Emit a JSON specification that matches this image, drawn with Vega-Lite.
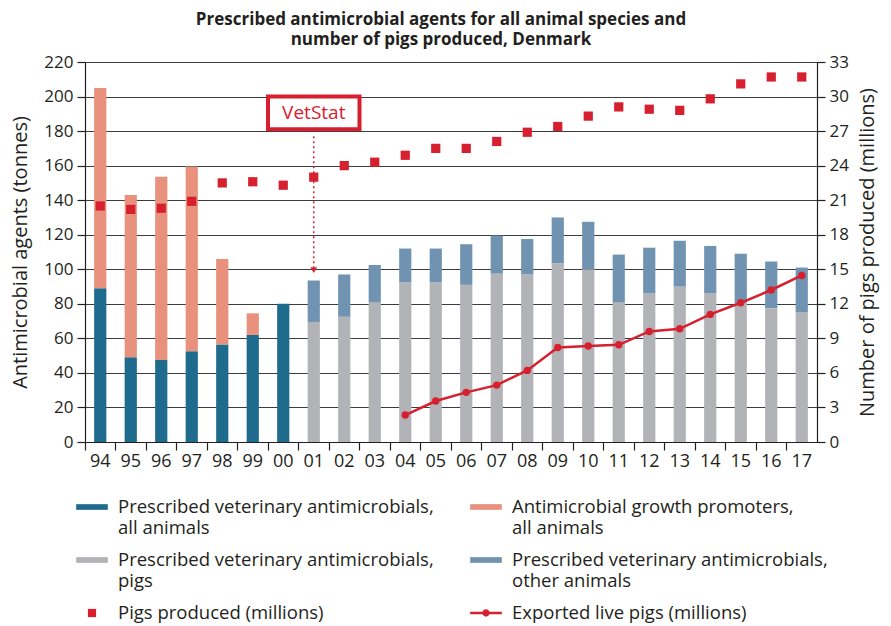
{
  "$schema": "https://vega.github.io/schema/vega-lite/v6.json",
  "width": 732,
  "height": 380,
  "autosize": {"type": "none"},
  "padding": {"left": 85, "top": 62, "right": 74, "bottom": 184},
  "background": "white",
  "title": {
    "text": ["Prescribed antimicrobial agents for all animal species and", "number of pigs produced, Denmark"],
    "fontSize": 17,
    "fontWeight": "bold",
    "font": "Open Sans",
    "color": "#231f20",
    "anchor": "middle",
    "dx": -10,
    "offset": 4,
    "lineHeight": 20
  },
  "config": {
    "view": {"stroke": null},
    "font": "Open Sans",
    "axis": {
      "labelFont": "Open Sans",
      "labelColor": "#231f20",
      "titleFont": "Open Sans",
      "titleColor": "#231f20",
      "titleFontWeight": "normal",
      "domainColor": "#231f20",
      "tickColor": "#231f20",
      "domainWidth": 1.2,
      "tickWidth": 1.2
    },
    "legend": {
      "orient": "none",
      "legendX": -9,
      "legendY": 429,
      "direction": "horizontal",
      "columns": 2,
      "columnPadding": 36,
      "rowPadding": 7,
      "labelFont": "Open Sans",
      "labelFontSize": 18.5,
      "labelColor": "#231f20",
      "labelLimit": 0,
      "labelOffset": 10,
      "symbolSize": 1000,
      "title": null
    }
  },
  "datasets": {
    "bars": [
      {"year": "94", "series": "Prescribed veterinary antimicrobials, all animals", "tonnes": 89, "ord": 1},
      {"year": "94", "series": "Antimicrobial growth promoters, all animals", "tonnes": 116, "ord": 2},
      {"year": "95", "series": "Prescribed veterinary antimicrobials, all animals", "tonnes": 49, "ord": 1},
      {"year": "95", "series": "Antimicrobial growth promoters, all animals", "tonnes": 94, "ord": 2},
      {"year": "96", "series": "Prescribed veterinary antimicrobials, all animals", "tonnes": 47.5, "ord": 1},
      {"year": "96", "series": "Antimicrobial growth promoters, all animals", "tonnes": 106, "ord": 2},
      {"year": "97", "series": "Prescribed veterinary antimicrobials, all animals", "tonnes": 52.5, "ord": 1},
      {"year": "97", "series": "Antimicrobial growth promoters, all animals", "tonnes": 107, "ord": 2},
      {"year": "98", "series": "Prescribed veterinary antimicrobials, all animals", "tonnes": 56.5, "ord": 1},
      {"year": "98", "series": "Antimicrobial growth promoters, all animals", "tonnes": 49.5, "ord": 2},
      {"year": "99", "series": "Prescribed veterinary antimicrobials, all animals", "tonnes": 62, "ord": 1},
      {"year": "99", "series": "Antimicrobial growth promoters, all animals", "tonnes": 12.5, "ord": 2},
      {"year": "00", "series": "Prescribed veterinary antimicrobials, all animals", "tonnes": 80, "ord": 1},
      {"year": "01", "series": "Prescribed veterinary antimicrobials, pigs", "tonnes": 69.5, "ord": 1},
      {"year": "01", "series": "Prescribed veterinary antimicrobials, other animals", "tonnes": 24, "ord": 2},
      {"year": "02", "series": "Prescribed veterinary antimicrobials, pigs", "tonnes": 72.5, "ord": 1},
      {"year": "02", "series": "Prescribed veterinary antimicrobials, other animals", "tonnes": 24.5, "ord": 2},
      {"year": "03", "series": "Prescribed veterinary antimicrobials, pigs", "tonnes": 81, "ord": 1},
      {"year": "03", "series": "Prescribed veterinary antimicrobials, other animals", "tonnes": 21.5, "ord": 2},
      {"year": "04", "series": "Prescribed veterinary antimicrobials, pigs", "tonnes": 92.5, "ord": 1},
      {"year": "04", "series": "Prescribed veterinary antimicrobials, other animals", "tonnes": 19.5, "ord": 2},
      {"year": "05", "series": "Prescribed veterinary antimicrobials, pigs", "tonnes": 92.5, "ord": 1},
      {"year": "05", "series": "Prescribed veterinary antimicrobials, other animals", "tonnes": 19.5, "ord": 2},
      {"year": "06", "series": "Prescribed veterinary antimicrobials, pigs", "tonnes": 91, "ord": 1},
      {"year": "06", "series": "Prescribed veterinary antimicrobials, other animals", "tonnes": 23.5, "ord": 2},
      {"year": "07", "series": "Prescribed veterinary antimicrobials, pigs", "tonnes": 97.5, "ord": 1},
      {"year": "07", "series": "Prescribed veterinary antimicrobials, other animals", "tonnes": 22, "ord": 2},
      {"year": "08", "series": "Prescribed veterinary antimicrobials, pigs", "tonnes": 97, "ord": 1},
      {"year": "08", "series": "Prescribed veterinary antimicrobials, other animals", "tonnes": 20.5, "ord": 2},
      {"year": "09", "series": "Prescribed veterinary antimicrobials, pigs", "tonnes": 103.5, "ord": 1},
      {"year": "09", "series": "Prescribed veterinary antimicrobials, other animals", "tonnes": 26.5, "ord": 2},
      {"year": "10", "series": "Prescribed veterinary antimicrobials, pigs", "tonnes": 100, "ord": 1},
      {"year": "10", "series": "Prescribed veterinary antimicrobials, other animals", "tonnes": 27.5, "ord": 2},
      {"year": "11", "series": "Prescribed veterinary antimicrobials, pigs", "tonnes": 81, "ord": 1},
      {"year": "11", "series": "Prescribed veterinary antimicrobials, other animals", "tonnes": 27.5, "ord": 2},
      {"year": "12", "series": "Prescribed veterinary antimicrobials, pigs", "tonnes": 86, "ord": 1},
      {"year": "12", "series": "Prescribed veterinary antimicrobials, other animals", "tonnes": 26.5, "ord": 2},
      {"year": "13", "series": "Prescribed veterinary antimicrobials, pigs", "tonnes": 90, "ord": 1},
      {"year": "13", "series": "Prescribed veterinary antimicrobials, other animals", "tonnes": 26.5, "ord": 2},
      {"year": "14", "series": "Prescribed veterinary antimicrobials, pigs", "tonnes": 86, "ord": 1},
      {"year": "14", "series": "Prescribed veterinary antimicrobials, other animals", "tonnes": 27.5, "ord": 2},
      {"year": "15", "series": "Prescribed veterinary antimicrobials, pigs", "tonnes": 80.5, "ord": 1},
      {"year": "15", "series": "Prescribed veterinary antimicrobials, other animals", "tonnes": 28.5, "ord": 2},
      {"year": "16", "series": "Prescribed veterinary antimicrobials, pigs", "tonnes": 77.5, "ord": 1},
      {"year": "16", "series": "Prescribed veterinary antimicrobials, other animals", "tonnes": 27, "ord": 2},
      {"year": "17", "series": "Prescribed veterinary antimicrobials, pigs", "tonnes": 75, "ord": 1},
      {"year": "17", "series": "Prescribed veterinary antimicrobials, other animals", "tonnes": 26, "ord": 2}
    ],
    "produced": [
      {"year": "94", "series": "Pigs produced (millions)", "millions": 20.5},
      {"year": "95", "series": "Pigs produced (millions)", "millions": 20.2},
      {"year": "96", "series": "Pigs produced (millions)", "millions": 20.3},
      {"year": "97", "series": "Pigs produced (millions)", "millions": 20.9},
      {"year": "98", "series": "Pigs produced (millions)", "millions": 22.5},
      {"year": "99", "series": "Pigs produced (millions)", "millions": 22.6},
      {"year": "00", "series": "Pigs produced (millions)", "millions": 22.3},
      {"year": "01", "series": "Pigs produced (millions)", "millions": 23.0},
      {"year": "02", "series": "Pigs produced (millions)", "millions": 24.0},
      {"year": "03", "series": "Pigs produced (millions)", "millions": 24.3},
      {"year": "04", "series": "Pigs produced (millions)", "millions": 24.9},
      {"year": "05", "series": "Pigs produced (millions)", "millions": 25.5},
      {"year": "06", "series": "Pigs produced (millions)", "millions": 25.5},
      {"year": "07", "series": "Pigs produced (millions)", "millions": 26.1},
      {"year": "08", "series": "Pigs produced (millions)", "millions": 26.9},
      {"year": "09", "series": "Pigs produced (millions)", "millions": 27.4},
      {"year": "10", "series": "Pigs produced (millions)", "millions": 28.3},
      {"year": "11", "series": "Pigs produced (millions)", "millions": 29.1},
      {"year": "12", "series": "Pigs produced (millions)", "millions": 28.9},
      {"year": "13", "series": "Pigs produced (millions)", "millions": 28.8},
      {"year": "14", "series": "Pigs produced (millions)", "millions": 29.8},
      {"year": "15", "series": "Pigs produced (millions)", "millions": 31.1},
      {"year": "16", "series": "Pigs produced (millions)", "millions": 31.7},
      {"year": "17", "series": "Pigs produced (millions)", "millions": 31.7}
    ],
    "exported": [
      {"year": "04", "series": "Exported live pigs (millions)", "millions": 2.34},
      {"year": "05", "series": "Exported live pigs (millions)", "millions": 3.56},
      {"year": "06", "series": "Exported live pigs (millions)", "millions": 4.31},
      {"year": "07", "series": "Exported live pigs (millions)", "millions": 4.94},
      {"year": "08", "series": "Exported live pigs (millions)", "millions": 6.22},
      {"year": "09", "series": "Exported live pigs (millions)", "millions": 8.21},
      {"year": "10", "series": "Exported live pigs (millions)", "millions": 8.33},
      {"year": "11", "series": "Exported live pigs (millions)", "millions": 8.44},
      {"year": "12", "series": "Exported live pigs (millions)", "millions": 9.6},
      {"year": "13", "series": "Exported live pigs (millions)", "millions": 9.83},
      {"year": "14", "series": "Exported live pigs (millions)", "millions": 11.08},
      {"year": "15", "series": "Exported live pigs (millions)", "millions": 12.09},
      {"year": "16", "series": "Exported live pigs (millions)", "millions": 13.2},
      {"year": "17", "series": "Exported live pigs (millions)", "millions": 14.46}
    ],
    "box": [
      {"from": "00", "to": "02", "year": "01", "low": 181, "high": 200, "mid": 190.5, "label": "VetStat", "arrowStart": 177, "arrowEnd": 101, "tip": 99.5}
    ]
  },
  "layer": [
    {
      "layer": [
        {
          "data": {"name": "bars"},
          "mark": {"type": "bar", "width": {"band": 0.4}},
          "encoding": {
            "x": {
              "field": "year", "type": "ordinal", "title": null,
              "scale": {"domain": ["94","95","96","97","98","99","00","01","02","03","04","05","06","07","08","09","10","11","12","13","14","15","16","17"], "paddingInner": 0, "paddingOuter": 0},
              "axis": {"labelAngle": 0, "labelFontSize": 18, "tickSize": 8, "bandPosition": 0, "labelPadding": 2, "grid": false}
            },
            "y": {
              "field": "tonnes", "type": "quantitative", "stack": "zero",
              "title": "Antimicrobial agents (tonnes)",
              "scale": {"domain": [0, 220], "nice": false},
              "axis": {"values": [0,20,40,60,80,100,120,140,160,180,200,220], "grid": true, "gridColor": "#3d3d3d", "gridWidth": 1, "tickSize": 8, "labelFontSize": 17, "labelPadding": 4, "titleFontSize": 20, "titlePadding": 13}
            },
            "color": {
              "field": "series", "type": "nominal",
              "scale": {
                "domain": ["Prescribed veterinary antimicrobials, all animals", "Antimicrobial growth promoters, all animals", "Prescribed veterinary antimicrobials, pigs", "Prescribed veterinary antimicrobials, other animals", "Pigs produced (millions)", "Exported live pigs (millions)"],
                "range": ["#1f6b8e", "#e8917c", "#b2b3b7", "#7193b2", "#d7202f", "#d7202f"]
              },
              "legend": {
                "labelExpr": "split(replace(datum.label, ', ', ',|'), '|')",
                "encode": {
                  "symbols": {
                    "update": {
                      "shape": {"signal": "datum.value == 'Pigs produced (millions)' ? 'M-0.26,-0.26H0.26V0.26H-0.26Z' : (datum.value == 'Exported live pigs (millions)' ? 'M-1,-0.08H1V0.08H-1Z M0.23,0A0.23,0.23 0 1 1 -0.23,0A0.23,0.23 0 1 1 0.23,0Z' : 'M-1,-0.18H1V0.18H-1Z')"},
                      "fill": {"scale": "color", "field": "value"},
                      "stroke": {"value": "transparent"},
                      "strokeWidth": {"value": 0},
                      "opacity": {"value": 1},
                      "size": {"value": 1000}
                    }
                  }
                }
              }
            },
            "order": {"field": "ord", "type": "quantitative"}
          }
        },
        {
          "data": {"name": "box"},
          "mark": {"type": "rect", "fill": "white", "stroke": "#d7202f", "strokeWidth": 4},
          "encoding": {
            "x": {"field": "from", "type": "ordinal", "bandPosition": 0, "title": null},
            "x2": {"field": "to", "bandPosition": 1},
            "y": {"field": "low", "type": "quantitative", "title": "Antimicrobial agents (tonnes)",
              "axis": {"values": [0,20,40,60,80,100,120,140,160,180,200,220], "grid": true, "gridColor": "#3d3d3d", "gridWidth": 1, "tickSize": 8, "labelFontSize": 17, "labelPadding": 4, "titleFontSize": 20, "titlePadding": 13}},
            "y2": {"field": "high"}
          }
        },
        {
          "data": {"name": "box"},
          "mark": {"type": "text", "color": "#d7202f", "fontSize": 19, "font": "Open Sans", "baseline": "middle", "align": "center"},
          "encoding": {
            "x": {"field": "year", "type": "ordinal", "title": null},
            "y": {"field": "mid", "type": "quantitative", "title": "Antimicrobial agents (tonnes)",
              "axis": {"values": [0,20,40,60,80,100,120,140,160,180,200,220], "grid": true, "gridColor": "#3d3d3d", "gridWidth": 1, "tickSize": 8, "labelFontSize": 17, "labelPadding": 4, "titleFontSize": 20, "titlePadding": 13}},
            "text": {"field": "label"}
          }
        },
        {
          "data": {"name": "box"},
          "mark": {"type": "rule", "color": "#d7202f", "strokeWidth": 1.5, "strokeDash": [2, 3]},
          "encoding": {
            "x": {"field": "year", "type": "ordinal", "title": null},
            "y": {"field": "arrowStart", "type": "quantitative", "title": "Antimicrobial agents (tonnes)",
              "axis": {"values": [0,20,40,60,80,100,120,140,160,180,200,220], "grid": true, "gridColor": "#3d3d3d", "gridWidth": 1, "tickSize": 8, "labelFontSize": 17, "labelPadding": 4, "titleFontSize": 20, "titlePadding": 13}},
            "y2": {"field": "arrowEnd"}
          }
        },
        {
          "data": {"name": "box"},
          "mark": {"type": "point", "shape": "triangle-down", "filled": true, "color": "#d7202f", "size": 45, "opacity": 1},
          "encoding": {
            "x": {"field": "year", "type": "ordinal", "title": null},
            "y": {"field": "tip", "type": "quantitative", "title": "Antimicrobial agents (tonnes)",
              "axis": {"values": [0,20,40,60,80,100,120,140,160,180,200,220], "grid": true, "gridColor": "#3d3d3d", "gridWidth": 1, "tickSize": 8, "labelFontSize": 17, "labelPadding": 4, "titleFontSize": 20, "titlePadding": 13}}
          }
        }
      ]
    },
    {
      "layer": [
        {
          "data": {"name": "produced"},
          "mark": {"type": "square", "size": 85, "opacity": 1},
          "encoding": {
            "x": {"field": "year", "type": "ordinal", "title": null},
            "y": {
              "field": "millions", "type": "quantitative",
              "title": "Number of pigs produced (millions)",
              "scale": {"domain": [0, 33], "nice": false},
              "axis": {"orient": "right", "values": [0,3,6,9,12,15,18,21,24,27,30,33], "grid": false, "tickSize": 8, "labelFontSize": 17, "labelPadding": 4, "titleFontSize": 20, "titlePadding": 9, "titleAngle": 270, "titleBaseline": "top"}
            },
            "color": {"field": "series", "type": "nominal"}
          }
        },
        {
          "data": {"name": "exported"},
          "mark": {"type": "line", "strokeWidth": 2.5, "point": {"filled": true, "size": 55, "opacity": 1}},
          "encoding": {
            "x": {"field": "year", "type": "ordinal", "title": null},
            "y": {
              "field": "millions", "type": "quantitative",
              "title": "Number of pigs produced (millions)",
              "scale": {"domain": [0, 33], "nice": false},
              "axis": {"orient": "right", "values": [0,3,6,9,12,15,18,21,24,27,30,33], "grid": false, "tickSize": 8, "labelFontSize": 17, "labelPadding": 4, "titleFontSize": 20, "titlePadding": 9, "titleAngle": 270, "titleBaseline": "top"}
            },
            "color": {"field": "series", "type": "nominal"}
          }
        }
      ]
    }
  ],
  "resolve": {"scale": {"y": "independent"}}
}
